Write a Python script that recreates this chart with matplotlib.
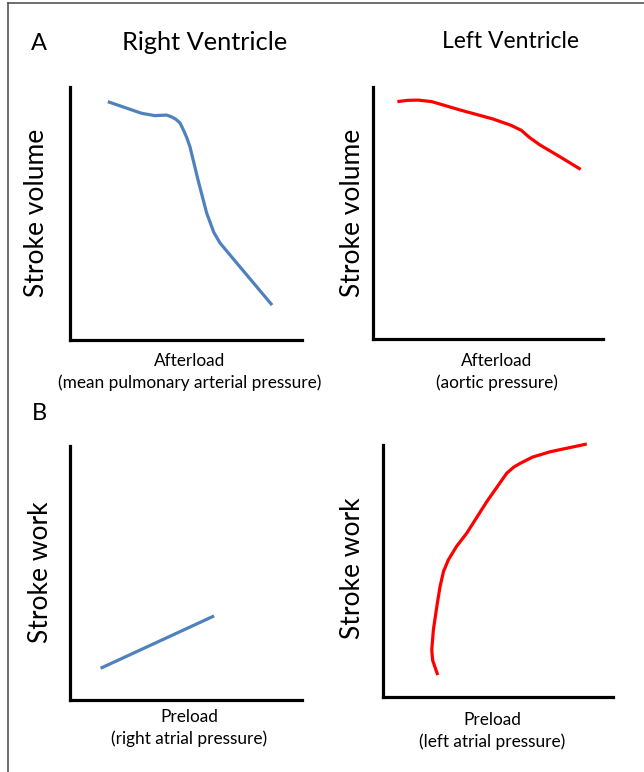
#!/usr/bin/env python3
"""
Right vs left ventricle: afterload and preload response sketch.
Two rows (A: stroke volume vs afterload, B: stroke work vs preload).
"""

import matplotlib
matplotlib.use("Agg")
import matplotlib.pyplot as plt
from matplotlib.lines import Line2D

plt.rcParams['font.family'] = ['Lato', 'DejaVu Sans']

# Curves in arbitrary units (0-100 on each axis)
rv_afterload_x = [16.3, 30.9, 36.5, 41.7, 44.0, 45.7, 47.4, 49.1, 50.4, 51.7, 55.2, 58.9, 62.0, 64.7, 71.9, 87.1]
rv_afterload_y = [94.2, 89.6, 88.7, 88.9, 88.1, 87.2, 85.8, 82.6, 79.8, 76.4, 63.2, 50.2, 42.5, 38.3, 30.4, 13.8]

lv_afterload_x = [10.6, 15.0, 19.6, 25.5, 37.8, 52.2, 60.0, 64.5, 68.0, 72.6, 81.3, 90.3]
lv_afterload_y = [94.2, 94.7, 94.8, 94.2, 90.9, 87.3, 84.8, 82.8, 80.0, 77.0, 72.3, 67.3]

rv_preload_x = [13.2, 62.1]
rv_preload_y = [12.5, 33.1]

lv_preload_x = [23.8, 21.6, 21.2, 21.9, 23.5, 24.8, 26.3, 28.4, 32.0, 36.4, 45.1, 53.8, 56.8, 59.6, 65.0, 72.6, 88.6]
lv_preload_y = [8.7, 14.5, 18.7, 26.6, 36.5, 43.8, 49.8, 54.4, 59.8, 65.0, 77.5, 88.8, 91.2, 92.7, 95.2, 97.3, 100.4]

BLUE = '#4F81BD'
RED = '#FF0000'

W, H = 644, 772
fig = plt.figure(figsize=(W / 100, H / 100), dpi=100)


def px_axes(left, top, right, bottom):
    # axes placed from pixel box of the reference
    return fig.add_axes([left / W, 1 - bottom / H, (right - left) / W, (bottom - top) / H])


def style(ax):
    ax.set_xlim(0, 100)
    ax.set_ylim(0, 100)
    for s in ['top', 'right']:
        ax.spines[s].set_visible(False)
    for s in ['left', 'bottom']:
        ax.spines[s].set_linewidth(2.3)
        ax.spines[s].set_color('black')
        ax.spines[s].set_capstyle('projecting')
    ax.set_xticks([])
    ax.set_yticks([])
    ax.patch.set_alpha(0)


ax1 = px_axes(70, 87, 302, 340)
ax2 = px_axes(373, 87, 603, 339)
ax3 = px_axes(70, 446, 302, 700)
ax4 = px_axes(383, 445, 613, 697)

for ax in (ax1, ax2, ax3, ax4):
    style(ax)

kw = dict(lw=2.3, solid_capstyle='butt', solid_joinstyle='round', clip_on=False)
ax1.plot(rv_afterload_x, rv_afterload_y, color=BLUE, **kw)
ax2.plot(lv_afterload_x, lv_afterload_y, color=RED, **kw)
ax3.plot(rv_preload_x, rv_preload_y, color=BLUE, **kw)
ax4.plot(lv_preload_x, lv_preload_y, color=RED, **kw)


def ftext(x, y, s, **k):
    fig.text(x / W, 1 - y / H, s, ha='center', va='center', **k)


# titles and panel letters
ftext(39, 43, 'A', fontsize=17)
ftext(205, 42, 'Right Ventricle', fontsize=18.3)
ftext(510, 42, 'Left Ventricle', fontsize=16.5)
ftext(39, 413, 'B', fontsize=17)

# y labels
ftext(37, 213, 'Stroke volume', fontsize=19)
ftext(352, 213, 'Stroke volume', fontsize=19)
ftext(40, 572, 'Stroke work', fontsize=19)
ftext(353, 568, 'Stroke work', fontsize=19)
for t in fig.texts[4:8]:
    t.set_rotation(90)

# x labels
ftext(190, 361, 'Afterload', fontsize=12.4)
ftext(190, 383, '(mean pulmonary arterial pressure)', fontsize=12.4)
ftext(497, 361, 'Afterload', fontsize=12.4)
ftext(497, 383, '(aortic pressure)', fontsize=12.4)
ftext(189, 717, 'Preload', fontsize=12.4)
ftext(189, 739, '(right atrial pressure)', fontsize=12.4)
ftext(492, 720, 'Preload', fontsize=12.4)
ftext(492, 742, '(left atrial pressure)', fontsize=12.4)

# thin grey frame at left and top
fig.add_artist(Line2D([8 / W, 8 / W], [0, 1 - 3 / H], color='#555555', lw=1.2))
fig.add_artist(Line2D([8 / W, 1], [1 - 3 / H, 1 - 3 / H], color='#555555', lw=1.2))

fig.savefig('out.png', dpi=100)
